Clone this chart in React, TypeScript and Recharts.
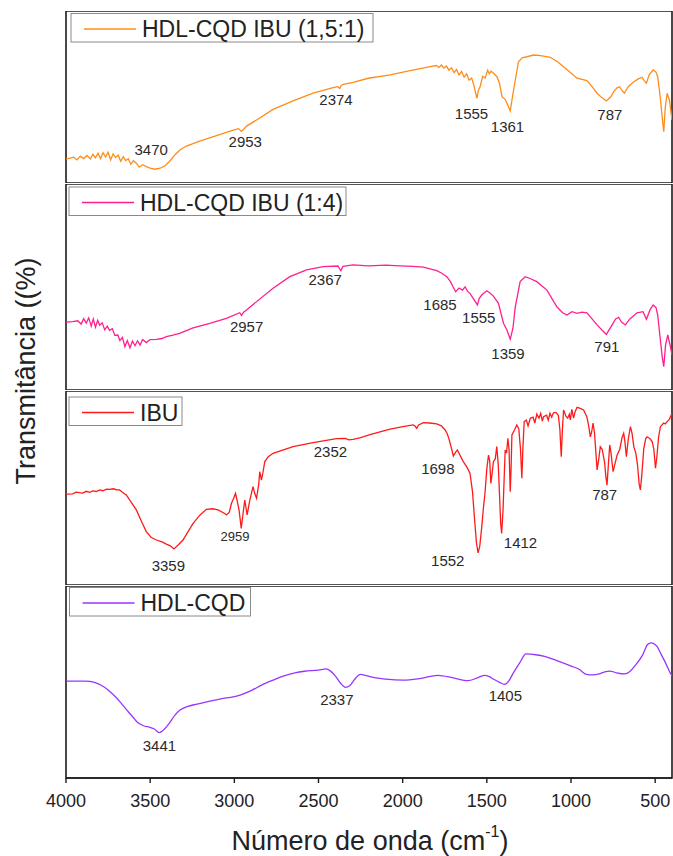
import React from "react";
import { LineChart, Line, XAxis, YAxis, ReferenceDot, ReferenceArea } from "recharts";

const FONT = "'Liberation Sans', Arial, Helvetica, sans-serif";
const INK = "#1c1c1c";

const xTicks = [4000, 3500, 3000, 2500, 2000, 1500, 1000, 500];

// HDL-CQD IBU (1,5:1)
const orangeWn = [
  4000, 3975, 3955, 3935, 3915, 3895, 3875, 3855, 3840, 3825, 3810, 3795, 3780, 3765, 3750, 3735,
  3720, 3705, 3690, 3675, 3660, 3645, 3630, 3615, 3600, 3582, 3565, 3545, 3523, 3500, 3473, 3440,
  3414, 3385, 3354, 3320, 3285, 3206, 3106, 3007, 2975, 2958, 2945, 2928, 2868, 2770, 2651, 2532,
  2413, 2385, 2374, 2365, 2353, 2294, 2204, 2075, 1956, 1837, 1800, 1785, 1770, 1755, 1740, 1725,
  1710, 1695, 1680, 1665, 1650, 1635, 1620, 1605, 1590, 1575, 1559, 1550, 1540, 1525, 1510, 1495,
  1485, 1475, 1460, 1440, 1425, 1410, 1390, 1375, 1361, 1341, 1312, 1290, 1262, 1222, 1180, 1123,
  1080, 1044, 1000, 964, 935, 905, 875, 845, 815, 790, 765, 746, 725, 711, 695, 683,
  660, 627, 600, 578, 565, 552, 535, 512, 495, 485, 470, 458, 449, 440, 429, 415, 400,
];
const orangeT = [
  14.0, 14.4, 15.0, 13.4, 15.6, 14.2, 16.0, 14.0, 16.7, 14.6, 17.3, 14.2, 17.6, 15.1, 17.9, 13.5,
  17.0, 14.8, 16.2, 12.6, 15.2, 13.0, 14.1, 10.9, 13.0, 11.5, 9.2, 10.6, 9.5, 8.7, 8.0, 8.6,
  9.9, 12.5, 16.3, 19.5, 21.5, 24.4, 27.5, 30.8, 31.6, 30.0, 31.2, 33.1, 36.6, 42.8, 47.7, 52.2,
  55.4, 56.0, 55.0, 56.7, 57.4, 58.5, 60.9, 62.8, 65.3, 67.6, 68.3, 67.2, 68.6, 66.8, 68.0, 65.6,
  67.0, 64.2, 66.0, 62.8, 64.8, 61.5, 63.5, 59.8, 61.0, 56.0, 49.2, 54.0, 56.0, 62.0, 61.0, 65.5,
  63.5, 65.0, 63.8, 61.8, 58.0, 50.2, 48.5, 45.0, 41.9, 54.1, 70.5, 72.8, 73.4, 74.4, 74.0, 73.1,
  70.5, 67.6, 64.0, 60.9, 60.2, 59.5, 56.0, 52.2, 49.5, 47.7, 50.0, 53.1, 55.5, 56.0, 53.5, 52.2,
  56.0, 58.9, 60.5, 61.5, 59.5, 58.0, 63.0, 65.7, 64.5, 61.8, 50.0, 38.0, 29.8, 44.0, 52.2, 48.0, 36.6,
];

// HDL-CQD IBU (1:4)
const pinkWn = [
  4000, 3960, 3930, 3910, 3895, 3880, 3865, 3850, 3838, 3825, 3812, 3800, 3785, 3770, 3755, 3741,
  3725, 3710, 3692, 3680, 3665, 3650, 3636, 3620, 3605, 3590, 3575, 3560, 3545, 3523, 3500, 3463,
  3430, 3404, 3365, 3325, 3245, 3146, 3047, 2968, 2957, 2945, 2928, 2868, 2770, 2670, 2571, 2472,
  2385, 2367, 2355, 2294, 2204, 2100, 2016, 1940, 1877, 1798, 1770, 1738, 1715, 1700, 1685, 1665,
  1645, 1629, 1615, 1600, 1585, 1556, 1545, 1530, 1515, 1500, 1480, 1461, 1431, 1401, 1380, 1361,
  1345, 1331, 1302, 1272, 1240, 1203, 1143, 1084, 1050, 1024, 994, 964, 935, 905, 875, 845,
  815, 790, 760, 735, 717, 700, 677, 650, 608, 572, 552, 530, 512, 495, 485, 470,
  458, 449, 438, 425, 412, 400,
];
const pinkT = [
  32.9, 33.2, 33.6, 32.0, 34.6, 32.5, 35.0, 31.0, 34.5, 30.5, 33.8, 31.5, 32.6, 29.2, 31.0, 29.0,
  29.8, 26.5, 26.7, 24.0, 25.5, 21.0, 24.0, 20.5, 23.8, 21.5, 23.9, 21.8, 24.5, 23.0, 24.5, 24.6,
  25.0, 25.9, 26.6, 27.5, 30.2, 32.4, 34.8, 37.5, 36.2, 37.8, 38.8, 42.9, 49.4, 55.0, 58.3, 59.9,
  60.2, 57.9, 60.0, 60.7, 60.3, 60.6, 60.3, 60.0, 59.6, 57.9, 56.8, 55.0, 52.5, 50.0, 47.7, 49.5,
  48.5, 50.1, 48.0, 46.9, 45.0, 41.3, 44.5, 46.1, 47.2, 48.2, 47.0, 45.6, 42.1, 32.4, 29.0, 24.6,
  30.0, 40.4, 52.6, 55.0, 54.0, 52.6, 48.5, 40.4, 37.5, 36.4, 38.0, 37.2, 37.8, 37.5, 34.5, 31.6,
  29.0, 27.0, 31.0, 34.5, 35.3, 33.0, 31.6, 34.5, 37.5, 38.0, 34.3, 39.0, 41.3, 40.0, 36.4, 25.0,
  16.0, 11.3, 22.0, 26.7, 22.0, 17.0,
];

// IBU
const redWn = [
  4000, 3960, 3940, 3920, 3900, 3880, 3860, 3840, 3820, 3800, 3780, 3760, 3741, 3720, 3700, 3682,
  3665, 3642, 3615, 3582, 3550, 3523, 3495, 3463, 3430, 3404, 3380, 3359, 3335, 3305, 3275, 3245,
  3205, 3166, 3130, 3097, 3060, 3047, 3030, 3017, 3005, 2993, 2982, 2972, 2959, 2948, 2938, 2924,
  2908, 2889, 2878, 2868, 2855, 2849, 2839, 2830, 2819, 2800, 2770, 2651, 2532, 2393, 2340, 2320,
  2294, 2250, 2194, 2075, 1990, 1937, 1925, 1917, 1905, 1877, 1840, 1798, 1770, 1748, 1735, 1723,
  1710, 1699, 1685, 1675, 1660, 1640, 1620, 1600, 1585, 1574, 1562, 1552, 1542, 1530, 1520, 1511,
  1500, 1490, 1483, 1476, 1468, 1461, 1450, 1441, 1432, 1425, 1418, 1412, 1404, 1391, 1383, 1375,
  1368, 1361, 1356, 1351, 1335, 1322, 1310, 1300, 1292, 1285, 1278, 1265, 1255, 1242, 1225, 1215,
  1203, 1190, 1180, 1170, 1163, 1145, 1135, 1125, 1115, 1104, 1090, 1075, 1066, 1058, 1050, 1044,
  1030, 1020, 1010, 1004, 995, 985, 975, 964, 945, 925, 905, 895, 885, 877, 869, 860,
  852, 845, 835, 826, 815, 800, 793, 786, 778, 770, 762, 756, 750, 740, 726, 710,
  697, 687, 680, 671, 660, 647, 637, 627, 615, 605, 595, 588, 580, 568, 556, 548,
  532, 518, 508, 498, 490, 480, 469, 450, 440, 429, 415, 400,
];
const redT = [
  46.8, 47.0, 47.9, 47.6, 47.4, 48.3, 47.8, 48.5, 48.2, 49.0, 48.6, 49.4, 49.3, 49.6, 49.1, 49.0,
  47.8, 46.4, 43.0, 38.7, 32.5, 27.5, 24.6, 23.2, 22.2, 21.1, 20.2, 18.6, 20.5, 23.2, 27.5, 31.8,
  36.0, 39.0, 39.3, 38.7, 37.0, 36.1, 37.5, 42.1, 44.5, 47.3, 43.0, 38.7, 29.2, 37.0, 43.8, 36.1,
  43.8, 50.7, 47.0, 44.7, 52.0, 58.4, 54.1, 58.0, 63.6, 66.0, 67.9, 71.3, 73.4, 75.4, 75.6, 74.8,
  75.1, 76.0, 77.5, 80.3, 81.8, 82.5, 81.8, 80.8, 82.5, 83.7, 83.5, 83.0, 82.0, 79.9, 78.0, 74.7,
  70.5, 66.5, 68.5, 69.6, 67.0, 63.6, 61.0, 57.6, 48.0, 35.2, 22.0, 16.6, 20.0, 30.1, 40.0, 47.3,
  60.0, 67.0, 64.0, 52.4, 58.0, 63.6, 65.0, 71.3, 62.0, 47.3, 32.0, 26.6, 38.0, 69.6, 68.0, 75.6,
  70.0, 48.1, 60.0, 77.3, 80.0, 82.5, 80.5, 70.0, 55.0, 72.0, 84.2, 85.0, 82.0, 85.9, 86.5, 83.5,
  88.1, 86.0, 88.5, 84.5, 86.8, 87.5, 85.0, 88.5, 86.5, 88.8, 89.0, 87.5, 80.0, 66.1, 82.0, 90.2,
  87.0, 86.0, 88.0, 85.1, 90.5, 86.0, 89.5, 91.6, 91.0, 90.2, 86.5, 82.0, 76.4, 79.0, 83.4, 78.0,
  68.0, 59.3, 65.0, 71.3, 70.0, 63.0, 56.0, 51.5, 62.0, 72.2, 68.0, 63.0, 58.4, 62.0, 67.0, 70.0,
  76.0, 78.2, 74.0, 66.1, 75.0, 81.6, 78.0, 71.3, 68.0, 62.0, 52.0, 49.0, 56.0, 70.0, 75.5, 76.4,
  75.5, 73.9, 70.0, 60.2, 66.0, 76.0, 81.6, 83.5, 83.0, 84.2, 85.5, 88.5,
];

// HDL-CQD
const purpleWn = [
  4000, 3885, 3830, 3783, 3745, 3706, 3668, 3630, 3600, 3579, 3540, 3502, 3475, 3446, 3415, 3387,
  3355, 3323, 3280, 3221, 3093, 2966, 2900, 2838, 2770, 2710, 2640, 2583, 2500, 2455, 2430, 2404,
  2370, 2340, 2315, 2289, 2251, 2210, 2174, 2100, 1995, 1900, 1791, 1700, 1612, 1560, 1515, 1485,
  1459, 1425, 1395, 1370, 1344, 1305, 1267, 1210, 1152, 1080, 999, 950, 909, 870, 833, 800,
  769, 730, 680, 650, 616, 575, 545, 525, 505, 488, 465, 437, 415, 397,
];
const purpleT = [
  50.5, 50.5, 49.8, 47.9, 45.5, 42.3, 38.5, 34.5, 31.5, 29.3, 27.2, 26.4, 25.5, 23.6, 25.5, 28.5,
  32.5, 35.4, 37.2, 38.5, 41.0, 43.2, 45.5, 48.4, 51.0, 53.1, 54.8, 55.6, 56.2, 56.8, 55.8, 53.6,
  49.5, 47.2, 48.0, 51.0, 54.0, 53.2, 52.4, 51.5, 51.0, 51.8, 53.5, 52.2, 50.7, 52.0, 53.5, 52.8,
  51.4, 49.8, 48.8, 50.5, 54.5, 60.0, 64.6, 64.2, 63.2, 61.0, 58.3, 56.5, 54.0, 53.7, 54.2, 55.3,
  55.7, 54.8, 54.2, 55.5, 58.9, 64.0, 69.5, 70.4, 69.8, 68.4, 64.5, 59.7, 55.5, 52.8,
];

// peak annotations: label text, wavenumber / transmittance where the label sits
const orangePeaks = [
  { label: "3470", wn: 3494, t: 19.2 },
  { label: "2953", wn: 2935, t: 24.4 },
  { label: "2374", wn: 2396, t: 48.8 },
  { label: "1555", wn: 1591, t: 40.5 },
  { label: "1361", wn: 1377, t: 32.7 },
  { label: "787", wn: 769, t: 40.1 },
];
const pinkPeaks = [
  { label: "2957", wn: 2927, t: 30.7 },
  { label: "2367", wn: 2460, t: 53.4 },
  { label: "1685", wn: 1778, t: 41.3 },
  { label: "1555", wn: 1548, t: 35.3 },
  { label: "1359", wn: 1374, t: 17.5 },
  { label: "791", wn: 787, t: 21.0 },
];
const redPeaks = [
  { label: "3359", wn: 3392, t: 10.3 },
  { label: "2959", wn: 2996, t: 24.9 },
  { label: "2352", wn: 2429, t: 68.7 },
  { label: "1698", wn: 1791, t: 60.2 },
  { label: "1552", wn: 1732, t: 12.5 },
  { label: "1412", wn: 1300, t: 22.0 },
  { label: "787", wn: 800, t: 46.9 },
];
const purplePeaks = [
  { label: "3441", wn: 3445, t: 16.8 },
  { label: "2337", wn: 2391, t: 41.1 },
  { label: "1405", wn: 1390, t: 42.9 },
];

const toRows = (wn: number[], t: number[]) => wn.map((w, i) => ({ wn: w, t: t[i] }));

function Panel({ rows, color, peaks, top, height, last, smooth }: any) {
  const axisH = last ? 34 : 0;
  return (
    <div style={{ position: "absolute", left: 0, top }}>
      <LineChart width={673} height={height + axisH} data={rows} margin={{ top: 0, right: 1, bottom: 0, left: 66 }}>
        <XAxis
          dataKey="wn" type="number" domain={[400, 4000]} reversed allowDataOverflow hide={!last}
          ticks={xTicks} interval={0} height={axisH} axisLine={{ stroke: INK, strokeWidth: 1.6 }}
          tick={{ fontSize: 18, fill: "#222", fontFamily: FONT }}
          tickLine={{ stroke: INK, strokeWidth: 1.4 }} tickSize={5} tickMargin={11}
        />
        <YAxis type="number" domain={[0, 100]} hide />
        {/* panel frame */}
        <ReferenceArea x1={4000} x2={400} y1={0} y2={100} fill="none" stroke={INK} strokeWidth={1.6} ifOverflow="visible" />
        <Line
          dataKey="t" type={smooth ? "monotone" : "linear"}
          stroke={color} strokeWidth={1.3} dot={false} isAnimationActive={false}
        />
        {peaks.map((p: any) => (
          <ReferenceDot
            key={p.label + p.wn} x={p.wn} y={p.t} r={0} ifOverflow="visible"
            shape={(s: any) => (
              <text x={s.cx} y={s.cy} textAnchor="middle" dominantBaseline="central"
                fontSize={p.label === "2959" ? 13 : 15} fill="#2a2a2a" fontFamily={FONT}>
                {p.label}
              </text>
            )}
          />
        ))}
      </LineChart>
    </div>
  );
}

function LegendBox({ x, y, w, color, name }: any) {
  return (
    <g>
      <rect x={x} y={y} width={w} height={28.5} fill="#fff" stroke="#8a8a8a" strokeWidth={1} />
      <line x1={x + 13} x2={x + 65} y1={y + 15.5} y2={y + 15.5} stroke={color} strokeWidth={1.4} />
      <text x={x + 71} y={y + 23.5} fontSize={23} fill="#222" fontFamily={FONT}>{name}</text>
    </g>
  );
}

export default function App() {
  return (
    <div style={{ position: "absolute", left: 0, top: 0, width: 673, height: 856, background: "#fff", fontFamily: FONT }}>
      <Panel rows={toRows(orangeWn, orangeT)} color="#FF8C1A" peaks={orangePeaks} top={11} height={172} />
      <Panel rows={toRows(pinkWn, pinkT)} color="#FF1F8E" peaks={pinkPeaks} top={184} height={206} />
      <Panel rows={toRows(redWn, redT)} color="#FF1A1A" peaks={redPeaks} top={391} height={194} />
      <Panel rows={toRows(purpleWn, purpleT)} color="#9A35FF" peaks={purplePeaks} top={586} height={192} last smooth />
      <svg width={673} height={856} style={{ position: "absolute", left: 0, top: 0, pointerEvents: "none" }}>
        <LegendBox x={71} y={13.5} w={302} color="#FF8C1A" name="HDL-CQD IBU (1,5:1)" />
        <LegendBox x={69} y={187} w={277} color="#FF1F8E" name="HDL-CQD IBU (1:4)" />
        <LegendBox x={69} y={397} w={113} color="#FF1A1A" name="IBU" />
        <LegendBox x={69.5} y={587.5} w={181} color="#9A35FF" name="HDL-CQD" />
        <text x={35} y={371} transform="rotate(-90 35 371)" textAnchor="middle" fontSize={27} fill="#222" fontFamily={FONT}>
          Transmitância ((%)
        </text>
        <text x={370} y={850} textAnchor="middle" fontSize={27} fill="#222" fontFamily={FONT}>
          Número de onda (cm<tspan fontSize={16} dy={-13}>-1</tspan><tspan dy={13}>)</tspan>
        </text>
      </svg>
    </div>
  );
}
